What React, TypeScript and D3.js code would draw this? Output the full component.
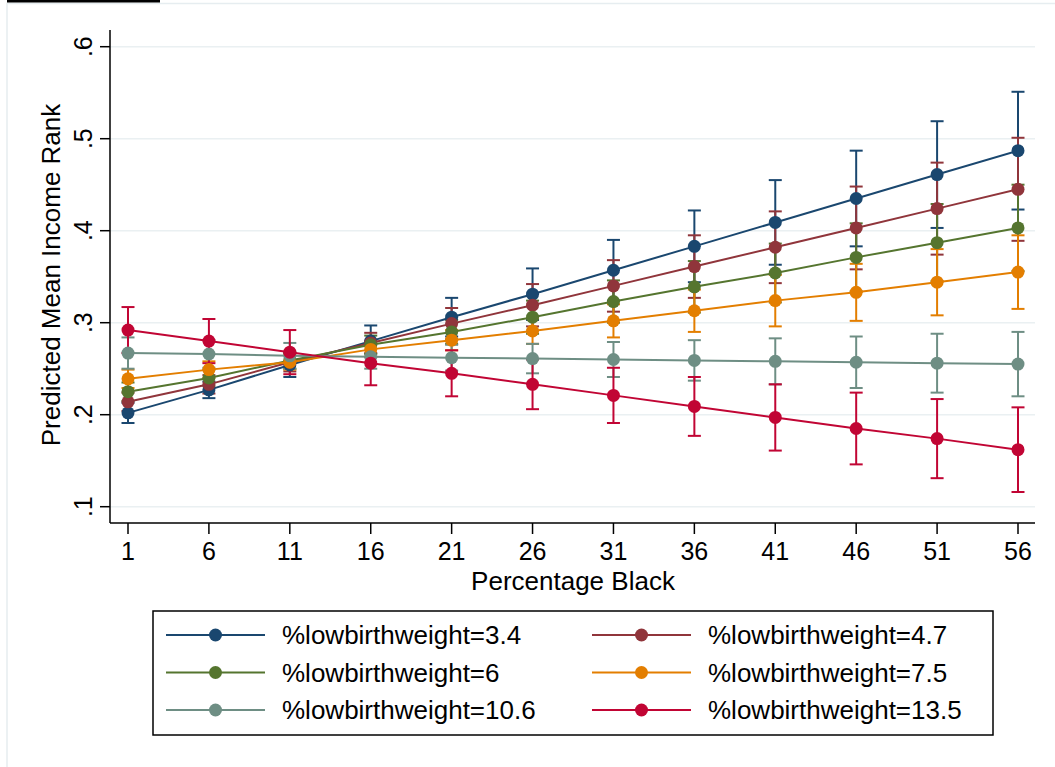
import React, { useEffect, useRef } from "react";
import * as d3 from "d3";

// percentage black values on the x axis
const pctBlack = [1, 6, 11, 16, 21, 26, 31, 36, 41, 46, 51, 56];
const yTicks = [0.1, 0.2, 0.3, 0.4, 0.5, 0.6];

const labels = [
  "%lowbirthweight=3.4",
  "%lowbirthweight=4.7",
  "%lowbirthweight=6",
  "%lowbirthweight=7.5",
  "%lowbirthweight=10.6",
  "%lowbirthweight=13.5",
];
const colors = ["#1a476f", "#90353b", "#55752f", "#e37e00", "#6e8e84", "#c10534"];

// predicted values and CI half widths
const lbw34 = [0.202, 0.227, 0.254, 0.28, 0.306, 0.331, 0.357, 0.383, 0.409, 0.435, 0.461, 0.487];
const lbw34ci = [0.011, 0.009, 0.013, 0.017, 0.021, 0.028, 0.033, 0.039, 0.046, 0.052, 0.058, 0.064];
const lbw47 = [0.214, 0.233, 0.257, 0.278, 0.299, 0.319, 0.34, 0.361, 0.382, 0.403, 0.424, 0.445];
const lbw47ci = [0.01, 0.01, 0.01, 0.011, 0.017, 0.023, 0.028, 0.034, 0.039, 0.045, 0.05, 0.056];
const lbw6 = [0.225, 0.24, 0.259, 0.276, 0.29, 0.306, 0.323, 0.339, 0.354, 0.371, 0.387, 0.403];
const lbw6ci = [0.01, 0.009, 0.009, 0.01, 0.013, 0.018, 0.023, 0.028, 0.032, 0.037, 0.042, 0.047];
const lbw75 = [0.239, 0.249, 0.257, 0.271, 0.281, 0.291, 0.302, 0.313, 0.324, 0.333, 0.344, 0.355];
const lbw75ci = [0.01, 0.009, 0.008, 0.008, 0.011, 0.014, 0.018, 0.023, 0.028, 0.031, 0.036, 0.04];
const lbw106 = [0.267, 0.266, 0.264, 0.263, 0.262, 0.261, 0.26, 0.259, 0.258, 0.257, 0.256, 0.255];
const lbw106ci = [0.017, 0.015, 0.014, 0.013, 0.014, 0.016, 0.019, 0.022, 0.025, 0.028, 0.032, 0.035];
const lbw135 = [0.292, 0.28, 0.268, 0.256, 0.245, 0.233, 0.221, 0.209, 0.197, 0.185, 0.174, 0.162];
const lbw135ci = [0.025, 0.024, 0.024, 0.024, 0.025, 0.027, 0.03, 0.032, 0.036, 0.039, 0.043, 0.046];

const means = [lbw34, lbw47, lbw6, lbw75, lbw106, lbw135];
const halfWidths = [lbw34ci, lbw47ci, lbw6ci, lbw75ci, lbw106ci, lbw135ci];

const FONT = "'Liberation Sans', Arial, Helvetica, sans-serif";

const App = () => {
  const svgRef = useRef(null);

  useEffect(() => {
    const svg = d3.select(svgRef.current);
    svg.selectAll("*").remove();

    const left = 110;
    const right = 1035;
    const top = 30;
    const bottom = 523;

    const x = d3.scaleLinear().domain([1, 56]).range([128, 1018]);
    const y = d3.scaleLinear().domain([0.1, 0.6]).range([506.7, 46.7]);

    // outer graph region
    svg
      .append("rect")
      .attr("x", 7)
      .attr("y", 3.5)
      .attr("width", 1100)
      .attr("height", 800)
      .attr("fill", "white")
      .attr("stroke", "#e6edf0")
      .attr("stroke-width", 1.5);
    svg.append("rect").attr("x", 7).attr("y", 0).attr("width", 153).attr("height", 2.5).attr("fill", "black");

    // gridlines
    svg
      .append("g")
      .selectAll("line")
      .data(yTicks)
      .enter()
      .append("line")
      .attr("x1", left)
      .attr("x2", right)
      .attr("y1", (d) => y(d))
      .attr("y2", (d) => y(d))
      .attr("stroke", "#eaf0f2")
      .attr("stroke-width", 1.5);

    // CIs first, then the connected lines
    means.forEach((vals, i) => {
      const g = svg.append("g").attr("stroke", colors[i]).attr("stroke-width", 2).attr("fill", "none");
      vals.forEach((v, j) => {
        const cx = x(pctBlack[j]);
        const lo = y(v - halfWidths[i][j]);
        const hi = y(v + halfWidths[i][j]);
        g.append("line").attr("x1", cx).attr("x2", cx).attr("y1", lo).attr("y2", hi);
        g.append("line").attr("x1", cx - 6.5).attr("x2", cx + 6.5).attr("y1", lo).attr("y2", lo);
        g.append("line").attr("x1", cx - 6.5).attr("x2", cx + 6.5).attr("y1", hi).attr("y2", hi);
      });
    });

    const line = d3
      .line<number>()
      .x((_, j) => x(pctBlack[j]))
      .y((d) => y(d));

    means.forEach((vals, i) => {
      svg
        .append("path")
        .datum(vals)
        .attr("d", line)
        .attr("fill", "none")
        .attr("stroke", colors[i])
        .attr("stroke-width", 2);
      svg
        .append("g")
        .selectAll("circle")
        .data(vals)
        .enter()
        .append("circle")
        .attr("cx", (_, j) => x(pctBlack[j]))
        .attr("cy", (d) => y(d))
        .attr("r", 6.5)
        .attr("fill", colors[i]);
    });

    // axes
    svg.append("line").attr("x1", left).attr("x2", left).attr("y1", top).attr("y2", bottom).attr("stroke", "black").attr("stroke-width", 1.5);
    svg.append("line").attr("x1", left).attr("x2", right).attr("y1", bottom).attr("y2", bottom).attr("stroke", "black").attr("stroke-width", 1.5);

    const yt = svg.append("g").selectAll("g").data(yTicks).enter().append("g");
    yt.append("line")
      .attr("x1", 100)
      .attr("x2", left)
      .attr("y1", (d) => y(d))
      .attr("y2", (d) => y(d))
      .attr("stroke", "black")
      .attr("stroke-width", 1.5);
    yt.append("text")
      .attr("transform", (d) => `translate(92,${y(d)}) rotate(-90)`)
      .attr("text-anchor", "middle")
      .style("font-family", FONT)
      .style("font-size", "25px")
      .text((d) => d3.format(".1f")(d).replace(/^0/, ""));

    const xt = svg.append("g").selectAll("g").data(pctBlack).enter().append("g");
    xt.append("line")
      .attr("x1", (d) => x(d))
      .attr("x2", (d) => x(d))
      .attr("y1", bottom)
      .attr("y2", bottom + 11)
      .attr("stroke", "black")
      .attr("stroke-width", 1.5);
    xt.append("text")
      .attr("x", (d) => x(d))
      .attr("y", 560)
      .attr("text-anchor", "middle")
      .style("font-family", FONT)
      .style("font-size", "25px")
      .text((d) => d);

    svg
      .append("text")
      .attr("x", 573)
      .attr("y", 590)
      .attr("text-anchor", "middle")
      .style("font-family", FONT)
      .style("font-size", "26px")
      .text("Percentage Black");

    svg
      .append("text")
      .attr("transform", "translate(60,275) rotate(-90)")
      .attr("text-anchor", "middle")
      .style("font-family", FONT)
      .style("font-size", "26px")
      .text("Predicted Mean Income Rank");

    // legend
    svg
      .append("rect")
      .attr("x", 153)
      .attr("y", 611)
      .attr("width", 840)
      .attr("height", 124)
      .attr("fill", "white")
      .attr("stroke", "black")
      .attr("stroke-width", 1.5);

    labels.forEach((lab, i) => {
      const col = i % 2;
      const row = Math.floor(i / 2);
      const x0 = col === 0 ? 166 : 592;
      const cy = 635 + row * 37.5;
      const g = svg.append("g");
      g.append("line").attr("x1", x0).attr("x2", x0 + 99).attr("y1", cy).attr("y2", cy).attr("stroke", colors[i]).attr("stroke-width", 2);
      g.append("circle").attr("cx", x0 + 49.5).attr("cy", cy).attr("r", 6.5).attr("fill", colors[i]);
      g.append("text")
        .attr("x", x0 + 116)
        .attr("y", cy + 9)
        .style("font-family", FONT)
        .style("font-size", "26px")
        .text(lab);
    });

    return () => {
      svg.selectAll("*").remove();
    };
  }, []);

  return (
    <svg
      ref={svgRef}
      width={1055}
      height={767}
      style={{ position: "absolute", left: 0, top: 0, background: "white" }}
    ></svg>
  );
};

export default App;
